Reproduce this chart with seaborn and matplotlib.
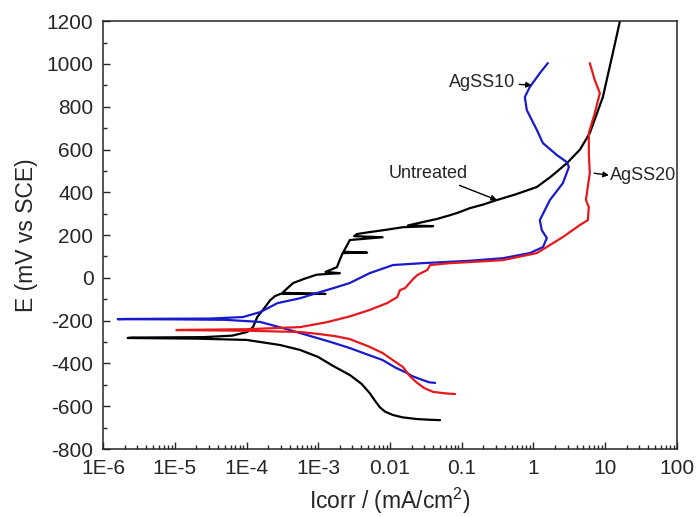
import numpy as np
import pandas as pd
import matplotlib
matplotlib.use("Agg")
import matplotlib.pyplot as plt
import seaborn as sns
from matplotlib.ticker import LogLocator, MultipleLocator, NullFormatter

# ---- data (current density in mA/cm^2, potential in mV vs SCE) ----
untreated_I = [0.050, 0.035, 0.024, 0.015, 0.011, 0.0085, 0.0072, 0.0062, 0.0052, 0.0040, 0.00275, 0.00158,
               0.0010, 5.6e-4, 2.95e-4, 1.0e-4, 2.0e-5, 2.2e-6,
               2.5e-6, 2.5e-5, 6.3e-5, 1.02e-4, 1.23e-4, 1.41e-4, 1.78e-4, 2.14e-4, 2.5e-4, 2.95e-4, 1.26e-3, 3.16e-4,
               3.8e-4, 4.47e-4, 6.3e-4, 9.5e-4, 2.0e-3, 1.26e-3, 1.82e-3, 2.0e-3, 2.19e-3, 4.8e-3, 2.24e-3, 2.5e-3,
               2.75e-3, 7.9e-3, 3.16e-3, 3.47e-3, 5.2e-3, 8.9e-3, 0.0151, 0.040, 0.0178, 0.0288, 0.0447, 0.0686,
               0.089, 0.130, 0.20, 0.31, 0.56, 1.12, 1.78, 2.93, 4.47, 6.12, 9.31, 12.8, 16.1]
untreated_E = [-665, -663, -660, -652, -641, -625, -604, -575, -538, -495, -454, -410,
               -370, -337, -314, -290, -284, -281,
               -279, -277, -270, -253, -230, -183, -140, -104, -85, -75, -75, -70,
               -45, -24, -5, 15, 22, 28, 50, 85, 116, 118, 122, 150,
               177, 190, 195, 205, 214, 225, 237, 242, 245, 261, 275, 293,
               305, 326, 343, 364, 390, 425, 475, 536, 600, 677, 845, 1050, 1200]

agss10_I = [0.0427, 0.035, 0.024, 0.020, 0.0174, 0.012, 0.0079, 0.005, 0.00275, 0.0015, 5.6e-4, 3.0e-4,
            1.55e-4, 5.0e-5, 1.0e-5, 1.6e-6,
            2.0e-6, 3.16e-5, 8.9e-5, 1.55e-4, 2.7e-4, 5.6e-4, 9.5e-4, 1.62e-3, 2.75e-3, 5.2e-3, 0.011,
            0.0288, 0.130, 0.376, 0.893, 1.36, 1.54, 1.31, 1.23, 1.70, 2.58, 3.13, 2.93, 2.13, 1.36,
            1.12, 0.81, 0.76, 0.89, 1.23, 1.59]
agss10_E = [-491, -488, -468, -458, -445, -420, -384, -360, -328, -300, -258, -232,
            -206, -196, -194, -193,
            -192, -190, -183, -160, -118, -95, -71, -48, -24, 22, 60,
            69, 80, 92, 116, 144, 186, 223, 270, 364, 443, 518, 541, 574, 630,
            691, 784, 845, 892, 957, 1004]

agss20_I = [0.081, 0.060, 0.040, 0.030, 0.024, 0.019, 0.0151, 0.011, 0.0079, 0.005, 0.00275, 0.0017,
            0.0010, 5.6e-4, 1.0e-4, 1.05e-5,
            1.26e-5, 1.0e-4, 5.6e-4, 1.32e-3, 2.75e-3, 5.2e-3, 9.1e-3, 0.0126, 0.0138, 0.0162, 0.0204,
            0.024, 0.0331, 0.0363, 0.069, 0.130, 0.376, 1.12, 2.58, 4.45, 5.75, 5.93, 5.40, 6.12,
            5.93, 5.93, 7.19, 8.45, 7.19, 6.12]
agss20_E = [-543, -540, -533, -515, -491, -460, -416, -385, -351, -320, -286, -272,
            -262, -253, -247, -244,
            -243, -240, -230, -207, -180, -150, -118, -90, -57, -48, -10,
            13, 37, 60, 69, 74, 83, 116, 191, 247, 270, 331, 364, 490,
            583, 677, 770, 864, 924, 1004]

series_names = ["Untreated", "AgSS10", "AgSS20"]
series_colors = ["#000000", "#1a1acd", "#e5191c"]

x_ticks = [1e-6, 1e-5, 1e-4, 1e-3, 1e-2, 1e-1, 1, 10, 100]
x_tick_labels = ["1E-6", "1E-5", "1E-4", "1E-3", "0.01", "0.1", "1", "10", "100"]
y_ticks = [-800, -600, -400, -200, 0, 200, 400, 600, 800, 1000, 1200]

# ---- plot ----
sns.set_style("ticks")
plt.rcParams["font.family"] = ["Liberation Sans", "DejaVu Sans"]
plt.rcParams["mathtext.fontset"] = "custom"
plt.rcParams["mathtext.rm"] = "Liberation Sans"
plt.rcParams["axes.unicode_minus"] = False

fig = plt.figure(figsize=(6.97, 5.17), dpi=100)
ax = fig.add_axes([0.148, 0.1315, 0.823, 0.8275])

data = [(untreated_I, untreated_E), (agss10_I, agss10_E), (agss20_I, agss20_E)]
for (I, E), name, col in zip(data, series_names, series_colors):
    df = pd.DataFrame({"I": I, "E": E})
    sns.lineplot(data=df, x="I", y="E", sort=False, estimator=None, color=col,
                 linewidth=1.6, ax=ax, legend=False)

ax.set_xscale("log")
ax.set_xlim(1e-6, 100)
ax.set_ylim(-800, 1200)
ax.set_xticks(x_ticks)
ax.set_xticklabels(x_tick_labels)
ax.xaxis.set_minor_locator(LogLocator(base=10, subs=np.arange(2, 10), numticks=100))
ax.xaxis.set_minor_formatter(NullFormatter())
ax.set_yticks(y_ticks)
ax.set_yticklabels([str(v) for v in y_ticks])
ax.yaxis.set_minor_locator(MultipleLocator(100))

ax.tick_params(axis="both", which="major", direction="in", length=5, width=1,
               labelsize=15, pad=7, top=False, right=False)
ax.tick_params(axis="both", which="minor", direction="in", length=3, width=1,
               top=False, right=False)
for s in ax.spines.values():
    s.set_linewidth(1.1)
    s.set_visible(True)

ax.set_xlabel("Icorr / (mA/cm$^{\\mathregular{2}}$)", fontsize=16.5, labelpad=6)
ax.set_ylabel("E (mV vs SCE)", fontsize=16.5, labelpad=6)

arrow = dict(arrowstyle="-|>", color="black", lw=1, mutation_scale=8, shrinkA=1, shrinkB=0)
ax.annotate("AgSS10", xy=(0.95, 901), xytext=(0.55, 915), ha="right", va="center",
            fontsize=13, arrowprops=arrow)
ax.annotate("Untreated", xy=(0.31, 364), xytext=(0.034, 490), ha="center", va="center",
            fontsize=13, arrowprops=arrow)
ax.annotate("AgSS20", xy=(11.6, 480), xytext=(11.6, 480), ha="left", va="center",
            fontsize=13)
ax.annotate("", xy=(11.3, 480), xytext=(6.75, 490), arrowprops=arrow)

fig.savefig("out.png", dpi=100)
